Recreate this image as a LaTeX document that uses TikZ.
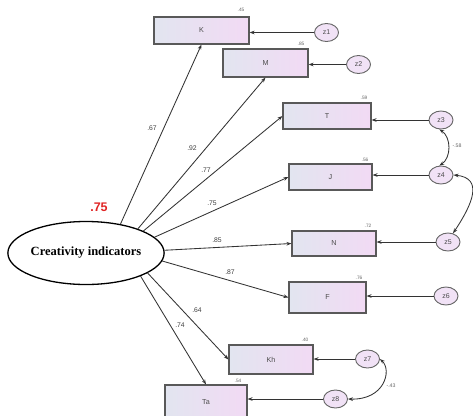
\documentclass[tikz,border=0pt]{standalone}
\usepackage{fontspec}
\setmainfont{Liberation Sans}
\newfontfamily\serifb{Liberation Serif}
\usetikzlibrary{arrows.meta,shapes.geometric}
\definecolor{boxL}{HTML}{E2E5F0}
\definecolor{boxR}{HTML}{F2DAF4}
\definecolor{errF}{HTML}{F1E2F6}
\definecolor{redv}{HTML}{E02424}
\begin{document}
\begin{tikzpicture}[x=1pt,y=-1pt,
  obs/.style={rectangle, draw=black!65, line width=1.1pt, left color=boxL, right color=boxR,
    inner sep=0pt, font=\fontsize{7.2}{8}\selectfont, text=black!70},
  err/.style={ellipse, draw=black!60, line width=0.9pt, fill=errF, minimum width=24pt,
    minimum height=18pt, inner sep=0pt, font=\fontsize{7}{7}\selectfont, text=black!70},
  lnk/.style={draw=black!80, line width=0.85pt, -{Stealth[length=5pt,width=3.6pt]}},
  cov/.style={draw=black!80, line width=0.85pt, {Stealth[length=5pt,width=3.6pt]}-{Stealth[length=5pt,width=3.6pt]}},
  coef/.style={font=\fontsize{6.8}{7}\selectfont, text=black!75, inner sep=0pt},
  rsq/.style={font=\fontsize{4.8}{5}\selectfont, text=black!60, inner sep=0pt}
]
\clip (0,0) rectangle (473,415);
\fill[white] (0,0) rectangle (473,415);

% latent
\node[ellipse, draw=black, line width=1.3pt, fill=white, minimum width=142pt, minimum height=63pt, inner sep=0pt,
  font=\serifb\bfseries\fontsize{12.5}{13}\selectfont] (ell) at (86,253) {Creativity indicators};
\node[font=\bfseries\fontsize{12.5}{13}\selectfont, text=redv, inner sep=0pt] (r2ell) at (99,207) {.75};

% observed
\node[obs, minimum width=95pt, minimum height=27pt] (K)  at (201.5,30.5) {K};
\node[obs, minimum width=85pt, minimum height=28pt] (M)  at (265.5,63)   {M};
\node[obs, minimum width=88pt, minimum height=26pt] (T)  at (327,116)    {T};
\node[obs, minimum width=83pt, minimum height=26pt] (J)  at (330.5,177)  {J};
\node[obs, minimum width=84pt, minimum height=25pt] (N)  at (334,243.5)  {N};
\node[obs, minimum width=77pt, minimum height=31pt] (F)  at (327.5,297.5){F};
\node[obs, minimum width=84pt, minimum height=29pt] (Kh) at (271,359.5)  {Kh};
\node[obs, minimum width=82pt, minimum height=34pt] (Ta) at (206,402)    {Ta};

% r-squared
\node[rsq] (rK)  at (241,10)  {.45};
\node[rsq] (rM)  at (301,44)  {.85};
\node[rsq] (rT)  at (364,98)  {.59};
\node[rsq] (rJ)  at (365,160) {.56};
\node[rsq] (rN)  at (368,226) {.72};
\node[rsq] (rF)  at (359,278) {.76};
\node[rsq] (rKh) at (305,340) {.40};
\node[rsq] (rTa) at (238,381) {.54};

% errors
\node[err] (z1) at (326.5,32.5) {z1};
\node[err] (z2) at (358.5,64.5) {z2};
\node[err] (z3) at (441,120)    {z3};
\node[err] (z4) at (441,175)    {z4};
\node[err] (z5) at (448,242)    {z5};
\node[err] (z6) at (446,296)    {z6};
\node[err] (z7) at (367.5,359)  {z7};
\node[err] (z8) at (335.5,399)  {z8};

% loadings
\draw[lnk] (ell.40)  -- (K.south);
\draw[lnk] (ell.25)  -- (M.south);
\draw[lnk] (ell.21)  -- (T.west);
\draw[lnk] (ell.13)  -- (J.west);
\draw[lnk] (ell.2)   -- (N.west);
\draw[lnk] (ell.-6)  -- (F.west);
\draw[lnk] (ell.-18) -- (Kh.west);
\draw[lnk] (ell.-23) -- (Ta.north);

\node[coef] (c1) at (152,128) {.67};
\node[coef] (c2) at (192,148) {.92};
\node[coef] (c3) at (206,170) {.77};
\node[coef] (c4) at (212,203) {.75};
\node[coef] (c5) at (217,240) {.85};
\node[coef] (c6) at (230,272) {.87};
\node[coef] (c7) at (197,310) {.64};
\node[coef] (c8) at (180,325) {.74};

% error paths
\draw[lnk] (z1.west) -- (z1.west -| K.east);
\draw[lnk] (z2.west) -- (z2.west -| M.east);
\draw[lnk] (z3.west) -- (z3.west -| T.east);
\draw[lnk] (z4.west) -- (z4.west -| J.east);
\draw[lnk] (z5.west) -- (z5.west -| N.east);
\draw[lnk] (z6.west) -- (z6.west -| F.east);
\draw[lnk] (z7.west) -- (z7.west -| Kh.east);
\draw[lnk] (z8.west) -- (z8.west -| Ta.east);

% covariances
\draw[cov] (z3.-100) .. controls +(12,8) and +(12,-8) .. (z4.100);
\draw[cov] (z4.east) .. controls +(30,3) and +(20,-30) .. (z5.60);
\draw[cov] (z7.east) .. controls +(12,11) and +(37,1) .. (z8.east);
\node[rsq, font=\fontsize{5.2}{6}\selectfont] (k1) at (457,146) {-.58};
\node[rsq, font=\fontsize{5.2}{6}\selectfont] (k2) at (391,386) {-.43};
\end{tikzpicture}
\end{document}
